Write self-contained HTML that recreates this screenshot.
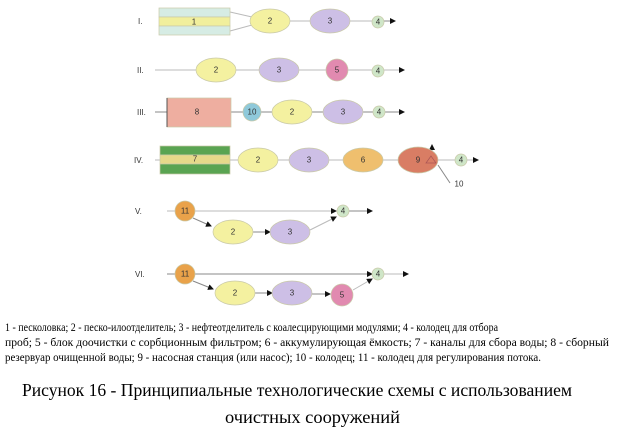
<!DOCTYPE html>
<html><head><meta charset="utf-8"><style>
html,body{margin:0;padding:0;background:#fff;width:617px;height:428px;overflow:hidden}
svg{display:block}
.n{font-family:"Liberation Sans",sans-serif;font-size:8px;fill:#333;text-anchor:middle;dominant-baseline:central}
.r{font-family:"Liberation Sans",sans-serif;font-size:8px;fill:#333}
.t{font-family:"Liberation Serif",serif;font-size:12px;fill:#000}
.c{font-family:"Liberation Serif",serif;font-size:18px;fill:#000}
</style></head><body>
<svg width="617" height="428" viewBox="0 0 617 428" xmlns="http://www.w3.org/2000/svg">
<defs><marker id="a" markerWidth="6" markerHeight="6" refX="5" refY="3" orient="auto" markerUnits="userSpaceOnUse"><path d="M0,0 L6,3 L0,6z" fill="#111"/></marker></defs>
<g stroke="#bbb" stroke-width="1" fill="none">
<line x1="230" y1="12" x2="252" y2="17"/><line x1="230" y1="31" x2="252" y2="25"/>
<line x1="290" y1="21" x2="310" y2="21"/><line x1="350" y1="21" x2="372" y2="21"/>
<line x1="384" y1="21" x2="395" y2="21" stroke="#888" marker-end="url(#a)"/>
<line x1="155" y1="70" x2="404" y2="70" marker-end="url(#a)"/>
<line x1="155" y1="112" x2="404" y2="112" stroke="#888" marker-end="url(#a)"/>
<line x1="155" y1="160" x2="478" y2="160" marker-end="url(#a)"/>
<line x1="432" y1="160" x2="432" y2="145" stroke="#888" marker-end="url(#a)"/>
<line x1="450" y1="183" x2="438" y2="165" stroke="#888"/>
<line x1="167" y1="211" x2="336" y2="211" marker-end="url(#a)"/>
<line x1="349" y1="211" x2="372" y2="211" stroke="#888" marker-end="url(#a)"/>
<line x1="193" y1="218" x2="211" y2="226" stroke="#888" marker-end="url(#a)"/>
<line x1="253" y1="232" x2="270" y2="232" stroke="#888" marker-end="url(#a)"/>
<line x1="310" y1="230" x2="336" y2="217" marker-end="url(#a)"/>
<line x1="167" y1="274" x2="372" y2="274" stroke="#888" marker-end="url(#a)"/>
<line x1="384" y1="274" x2="408" y2="274" marker-end="url(#a)"/>
<line x1="193" y1="281" x2="213" y2="289" stroke="#888" marker-end="url(#a)"/>
<line x1="255" y1="293" x2="272" y2="293" stroke="#888" marker-end="url(#a)"/>
<line x1="312" y1="294" x2="330" y2="294" stroke="#888" marker-end="url(#a)"/>
<line x1="353" y1="290" x2="372" y2="279" marker-end="url(#a)"/>
</g>
<g stroke="#c9c9a8" stroke-width="0.7">
<rect x="159" y="8" width="71" height="9" fill="#d6ece4"/>
<rect x="159" y="17" width="71" height="9" fill="#f1ef9c"/>
<rect x="159" y="26" width="71" height="9" fill="#d6ece4"/>
<ellipse cx="270" cy="21" rx="20" ry="12" fill="#f4f1a0"/>
<ellipse cx="330" cy="21" rx="20" ry="12" fill="#cdbfe6"/>
<circle cx="378" cy="22" r="6" fill="#cfe6c8"/>
<ellipse cx="216" cy="70" rx="20" ry="12" fill="#f4f1a0"/>
<ellipse cx="279" cy="70" rx="20" ry="12" fill="#cdbfe6"/>
<circle cx="337" cy="70" r="11" fill="#e18ab0"/>
<circle cx="378" cy="71" r="6" fill="#cfe6c8"/>
<rect x="167" y="98" width="64" height="29" fill="#eeaea0"/>
<circle cx="252" cy="112" r="9" fill="#8fc9da"/>
<ellipse cx="292" cy="112" rx="20" ry="12" fill="#f4f1a0"/>
<ellipse cx="343" cy="112" rx="20" ry="12" fill="#cdbfe6"/>
<circle cx="379" cy="112" r="6" fill="#cfe6c8"/>
<rect x="160" y="146" width="70" height="9" fill="#5aa452"/>
<rect x="160" y="155" width="70" height="9" fill="#e6d98a"/>
<rect x="160" y="164" width="70" height="10" fill="#5aa452"/>
<ellipse cx="258" cy="160" rx="20" ry="12" fill="#f4f1a0"/>
<ellipse cx="309" cy="160" rx="20" ry="12" fill="#cdbfe6"/>
<ellipse cx="363" cy="160" rx="20" ry="12" fill="#efbf6e"/>
<ellipse cx="418" cy="160" rx="20" ry="13" fill="#d97d64"/>
<circle cx="461" cy="160" r="6" fill="#cfe6c8"/>
<circle cx="185" cy="211" r="10" fill="#e9a24a"/>
<ellipse cx="233" cy="232" rx="20" ry="12" fill="#f4f1a0"/>
<ellipse cx="290" cy="232" rx="20" ry="12" fill="#cdbfe6"/>
<circle cx="343" cy="211" r="6" fill="#cfe6c8"/>
<circle cx="185" cy="274" r="10" fill="#e9a24a"/>
<ellipse cx="235" cy="293" rx="20" ry="12" fill="#f4f1a0"/>
<ellipse cx="292" cy="293" rx="20" ry="12" fill="#cdbfe6"/>
<circle cx="342" cy="295" r="11" fill="#e18ab0"/>
<circle cx="378" cy="274" r="6" fill="#cfe6c8"/>
</g>
<path d="M426,163 L431,156 L436,163z" fill="none" stroke="#a55" stroke-width="0.7"/>
<line x1="167" y1="98" x2="167" y2="127" stroke="#555"/>
<g class="n">
<text x="194" y="22">1</text><text x="270" y="21">2</text><text x="330" y="21">3</text><text x="378" y="22">4</text>
<text x="216" y="70">2</text><text x="279" y="70">3</text><text x="337" y="70">5</text><text x="378" y="71">4</text>
<text x="197" y="112">8</text><text x="252" y="112">10</text><text x="292" y="112">2</text><text x="343" y="112">3</text><text x="379" y="112">4</text>
<text x="195" y="159">7</text><text x="258" y="160">2</text><text x="309" y="160">3</text><text x="363" y="160">6</text><text x="418" y="160">9</text><text x="461" y="160">4</text>
<text x="459" y="184">10</text>
<text x="185" y="211">11</text><text x="233" y="232">2</text><text x="290" y="232">3</text><text x="343" y="211">4</text>
<text x="185" y="274">11</text><text x="235" y="293">2</text><text x="292" y="293">3</text><text x="342" y="295">5</text><text x="378" y="274">4</text>
</g>
<g class="r">
<text x="138" y="24">I.</text><text x="137" y="73">II.</text><text x="137" y="115">III.</text><text x="134" y="163">IV.</text><text x="135" y="214">V.</text><text x="135" y="277">VI.</text>
</g>
<text class="t" x="5" y="331" textLength="493" lengthAdjust="spacingAndGlyphs">1 - песколовка; 2 - песко-илоотделитель; 3 - нефтеотделитель с коалесцирующими модулями;  4 - колодец для отбора</text>
<text class="t" x="5" y="346" textLength="604" lengthAdjust="spacingAndGlyphs">проб; 5 - блок доочистки с сорбционным фильтром; 6 - аккумулирующая ёмкость; 7 - каналы для сбора воды; 8 - сборный</text>
<text class="t" x="5" y="361" textLength="536" lengthAdjust="spacingAndGlyphs">резервуар очищенной воды; 9 - насосная станция (или насос); 10 - колодец; 11 - колодец для регулирования потока.</text>
<text class="c" x="22" y="396" textLength="550" lengthAdjust="spacingAndGlyphs">Рисунок 16 - Принципиальные технологические схемы с использованием</text>
<text class="c" x="225" y="423" textLength="175" lengthAdjust="spacingAndGlyphs">очистных сооружений</text>
</svg>
</body></html>
